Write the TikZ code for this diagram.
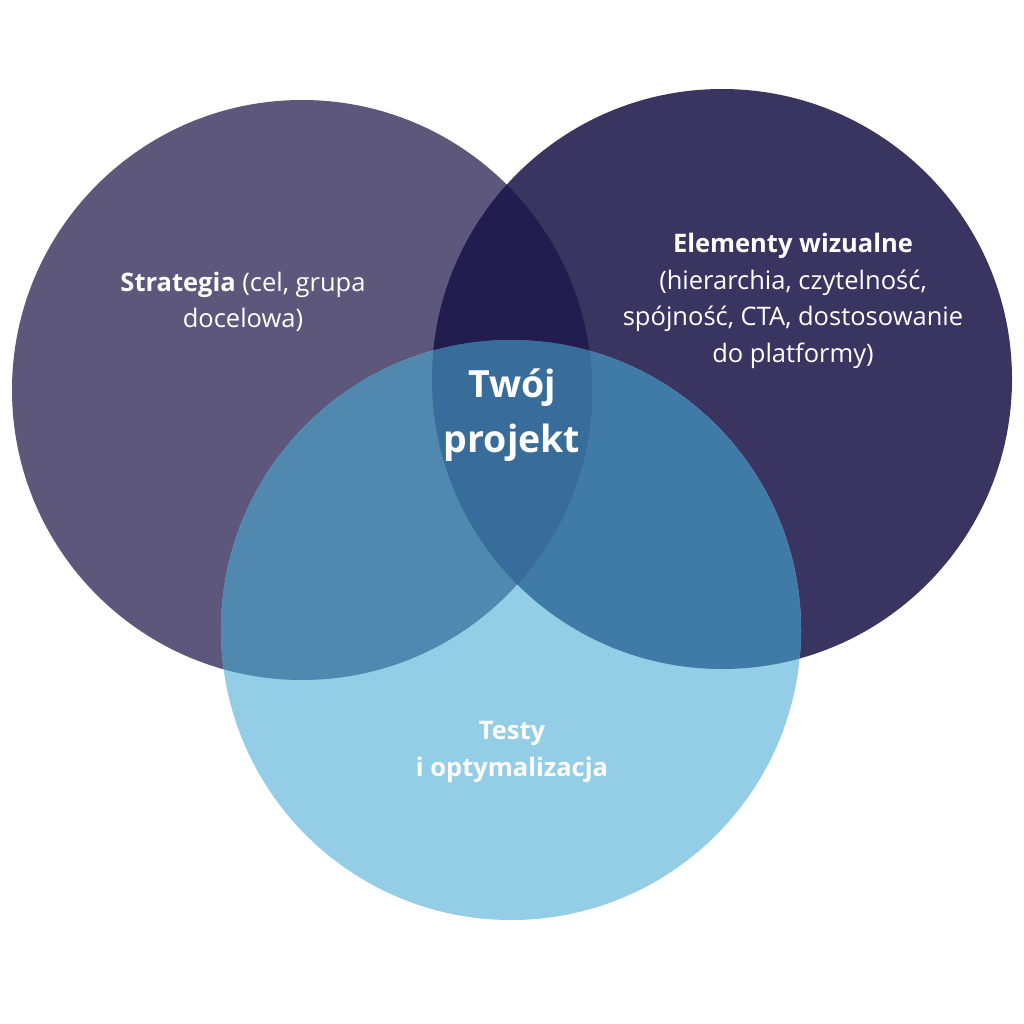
\documentclass[tikz,border=0pt]{standalone}
\usepackage{fontspec}
\setmainfont{Open Sans}
\definecolor{strat}{HTML}{5D577B}
\definecolor{elem}{HTML}{3A3461}
\definecolor{test}{HTML}{93CDE6}
\definecolor{stratelem}{HTML}{231C4E}
\definecolor{strattest}{HTML}{5088AF}
\definecolor{elemtest}{HTML}{407AA7}
\definecolor{allthree}{HTML}{386C9A}

\begin{document}
\begin{tikzpicture}[x=1pt,y=-1pt,
  lbl/.style={text=white,align=center,inner sep=0pt,font=\fontsize{25.5}{36.5}\selectfont},
  lblb/.style={lbl,font=\fontsize{25.5}{37}\selectfont\bfseries},
  big/.style={text=white,align=center,inner sep=0pt,font=\fontsize{37.5}{55}\selectfont\bfseries}]
\useasboundingbox (0,0) rectangle (1024,1024);
\fill[white] (0,0) rectangle (1024,1024);

\coordinate (S) at (302,390);
\coordinate (E) at (722,379);
\coordinate (T) at (511,630);

\fill[strat] (S) circle[radius=290pt];
\fill[elem] (E) circle[radius=290pt];
\fill[test] (T) circle[radius=290pt];

\begin{scope}
\clip (E) circle[radius=290pt];
\fill[elemtest] (T) circle[radius=290pt];
\end{scope}
\begin{scope}
\clip (S) circle[radius=290pt];
\fill[stratelem] (E) circle[radius=290pt];
\fill[strattest] (T) circle[radius=290pt];
\clip (E) circle[radius=290pt];
\fill[allthree] (T) circle[radius=290pt];
\end{scope}

\node[lbl] (strategia) at (243,302) {\textbf{Strategia} (cel, grupa\\docelowa)};
\node[lbl] (elementy) at (793,301) {\textbf{Elementy wizualne}\\(hierarchia, czytelność,\\spójność, CTA, dostosowanie\\do platformy)};
\node[big] (projekt) at (512,415) {Twój\\projekt};
\node[lblb] (testy) at (512,752) {Testy\\i optymalizacja};

\end{tikzpicture}
\end{document}
